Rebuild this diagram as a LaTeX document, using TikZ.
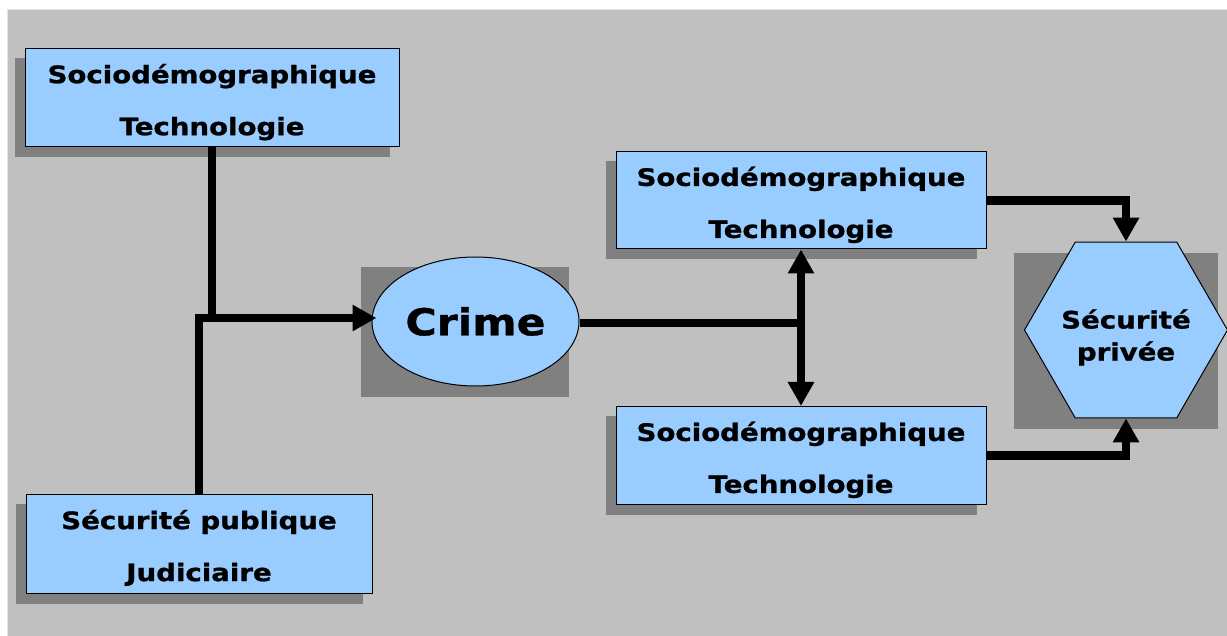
\documentclass[tikz,border=0pt]{standalone}
\usepackage{fontspec}
\setmainfont{DejaVu Sans}[FakeStretch=1.15, BoldFeatures={FakeBold=1}]
\usetikzlibrary{arrows.meta,shapes.geometric,calc}

\definecolor{panel}{HTML}{C0C0C0}
\definecolor{paneledge}{HTML}{E4E4E4}
\definecolor{boxfill}{HTML}{99CCFF}
\definecolor{shade}{HTML}{808080}

\pgfdeclarelayer{backdrop}
\pgfdeclarelayer{shadows}
\pgfsetlayers{backdrop,shadows,main}

% strut lifting the first line of a two-line label
\newcommand{\firstline}[1]{\rule{0pt}{#1}}

\tikzset{
  box/.style={draw=black, line width=1pt, fill=boxfill, inner sep=0pt,
    align=center, font=\bfseries\fontsize{24}{52}\selectfont},
  wire/.style={line width=8.5pt, draw=black},
  tip/.style={-{Triangle[length=24pt,width=25pt]}},
  shadowfill/.style={fill=shade}
}

\begin{document}
\begin{tikzpicture}[x=1pt,y=-1pt]
  % page and grey panel
  \useasboundingbox (0,0) rectangle (1227,636);
  \begin{pgfonlayer}{backdrop}
    \fill[white] (0,0) rectangle (1227,636);
    \fill[panel] (7,9) rectangle (1227,636);
    \draw[paneledge, line width=1pt] (7.5,636) -- (7.5,9.5) -- (1227,9.5);
  \end{pgfonlayer}

  % boxes
  \node[box, minimum width=374, minimum height=98.5] (b1) at (212,97.75)
    {\firstline{28pt}Sociodémographique\\Technologie};
  \node[box, minimum width=346, minimum height=99] (b4) at (199,543.5)
    {\firstline{28pt}Sécurité publique\\Judiciaire};
  \node[box, minimum width=370, minimum height=97] (b2) at (801,200.5)
    {\firstline{28pt}Sociodémographique\\Technologie};
  \node[box, minimum width=370, minimum height=98] (b3) at (801,455.5)
    {\firstline{28pt}Sociodémographique\\Technologie};
  \node[box, shape=ellipse, minimum width=207, minimum height=129,
    font=\bfseries\fontsize{37}{44}\selectfont] (crime) at (475.5,321.5) {Crime};
  \node[box, shape=regular polygon, regular polygon sides=6, minimum size=203,
    inner sep=-20pt, font=\bfseries\fontsize{24}{32}\selectfont] (hex) at (1126,330)
    {\firstline{34pt}Sécurité\\privée};

  % drop shadows
  \begin{pgfonlayer}{shadows}
    \foreach \n in {b1,b2,b3,b4}
      \fill[shadowfill] ($(\n.north west)+(-10,10)$) rectangle ($(\n.south east)+(-10,10)$);
    \fill[shadowfill] ($(crime.west |- crime.north)+(-11,11)$)
      rectangle ($(crime.east |- crime.south)+(-11,11)$);
    \fill[shadowfill] ($(hex.west |- hex.north)+(-10,11)$)
      rectangle ($(hex.east |- hex.south)+(-10,11)$);
  \end{pgfonlayer}

  % connectors
  \coordinate (j1) at (199,318);
  \coordinate (j2) at (801,323);
  \draw[wire] (b1.south) -- (b1.south |- j1);
  \draw[wire, tip] (b4.north) -- (j1) -- ($(crime.west |- j1)+(5,0)$);
  \draw[wire] (crime.east |- j2) -- (j2);
  \draw[wire, tip] (j2) -- (b2.south);
  \draw[wire, tip] (j2) -- (b3.north);
  \draw[wire, tip] (b2.east) -| (hex.north);
  \draw[wire, tip] (b3.east) -| (hex.south);
\end{tikzpicture}
\end{document}
